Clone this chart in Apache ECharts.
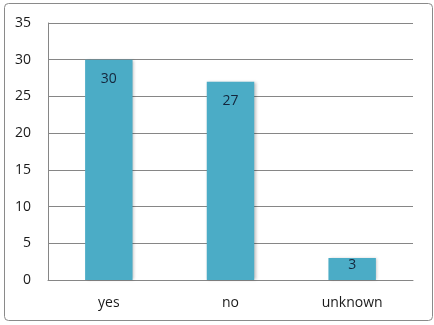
<!DOCTYPE html>
<html><head><meta charset="utf-8">
<script src="https://cdn.jsdelivr.net/npm/echarts@6/dist/echarts.min.js"></script>
<style>html,body{margin:0;padding:0;background:#fff}#c{width:434px;height:325px}</style>
</head><body><div id="c"></div>
<script>
var categories = ['yes', 'no', 'unknown'];
var values = [30, 27, 3];
var yTicks = { min: 0, max: 35, interval: 5 };

var chart = echarts.init(document.getElementById('c'));
var font = '"Open Sans", "Liberation Sans", sans-serif';
chart.setOption({
  animation: false,
  graphic: [{
    type: 'rect', left: 4, top: 3, z: -1,
    shape: { width: 428, height: 317, r: 4 },
    style: { fill: '#fff', stroke: '#8a8a8a', lineWidth: 1 }
  }],
  grid: { left: 48, right: 21, top: 23, bottom: 45 },
  xAxis: {
    type: 'category', data: categories,
    axisLine: { lineStyle: { color: '#868686', width: 1 } },
    axisTick: { show: false },
    axisLabel: { color: '#1a1a1a', fontFamily: font, fontSize: 14, margin: 16 }
  },
  yAxis: {
    type: 'value', min: yTicks.min, max: yTicks.max, interval: yTicks.interval,
    axisLine: { show: true, lineStyle: { color: '#868686', width: 1 } },
    axisTick: { show: false },
    splitLine: { lineStyle: { color: '#868686', width: 1 } },
    axisLabel: { color: '#1a1a1a', fontFamily: font, fontSize: 14, margin: 17 }
  },
  series: [{
    type: 'bar', barWidth: '39%',
    data: values.map(function (v, i) {
      return { value: v, label: { distance: i === 2 ? 0 : 12 } };
    }),
    itemStyle: { color: '#4BACC6', shadowColor: 'rgba(0,0,0,0.25)', shadowBlur: 3, shadowOffsetX: 1.5, shadowOffsetY: 0 },
    label: { show: true, position: 'insideTop', color: '#14263c', fontFamily: font, fontSize: 14 }
  }]
});
</script></body></html>
